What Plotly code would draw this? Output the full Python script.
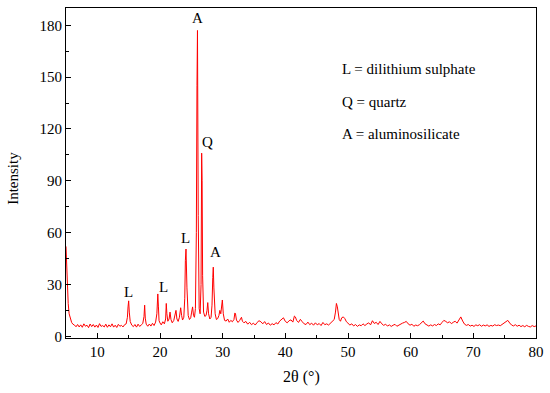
import plotly.graph_objects as go

two_theta = [
    5.0, 5.1, 5.2, 5.35, 5.5, 5.7, 5.9, 6.1, 6.35, 6.6,
    6.85, 7.1, 7.35, 7.6, 7.85, 8.1, 8.35, 8.6, 8.85, 9.1,
    9.35, 9.6, 9.85, 10.1, 10.35, 10.6, 10.85, 11.1, 11.35, 11.6,
    11.85, 12.1, 12.35, 12.6, 12.85, 13.1, 13.35, 13.6, 13.85, 14.1,
    14.35, 14.6, 14.8, 14.9, 15.0, 15.1, 15.25, 15.5, 15.75, 16.0,
    16.25, 16.5, 16.75, 17.0, 17.25, 17.45, 17.55, 17.65, 17.8, 18.05,
    18.3, 18.55, 18.8, 19.05, 19.3, 19.5, 19.65, 19.75, 19.85, 20.0,
    20.2, 20.45, 20.7, 20.9, 21.0, 21.1, 21.25, 21.45, 21.6, 21.75,
    21.95, 22.2, 22.4, 22.55, 22.7, 22.9, 23.1, 23.3, 23.45, 23.6,
    23.8, 23.95, 24.05, 24.15, 24.3, 24.5, 24.7, 24.9, 25.05, 25.2,
    25.35, 25.5, 25.65, 25.8, 25.9, 25.98, 26.1, 26.25, 26.4, 26.55,
    26.65, 26.72, 26.8, 26.95, 27.15, 27.35, 27.5, 27.62, 27.75, 27.95,
    28.15, 28.3, 28.42, 28.5, 28.6, 28.8, 29.0, 29.2, 29.4, 29.55,
    29.7, 29.85, 29.95, 30.1, 30.3, 30.55, 30.8, 31.05, 31.3, 31.55,
    31.8, 31.95, 32.05, 32.2, 32.45, 32.7, 32.9, 33.0, 33.15, 33.4,
    33.7, 34.0, 34.3, 34.6, 34.9, 35.2, 35.5, 35.8, 36.1, 36.4,
    36.7, 37.0, 37.3, 37.6, 37.9, 38.2, 38.5, 38.8, 39.1, 39.4,
    39.7, 40.0, 40.3, 40.6, 40.9, 41.2, 41.45, 41.6, 41.8, 42.1,
    42.4, 42.7, 43.0, 43.3, 43.6, 43.9, 44.2, 44.5, 44.8, 45.1,
    45.4, 45.7, 46.0, 46.3, 46.6, 46.9, 47.2, 47.5, 47.8, 48.0,
    48.15, 48.3, 48.45, 48.6, 48.8, 49.0, 49.25, 49.5, 49.75, 50.0,
    50.3, 50.6, 50.9, 51.2, 51.5, 51.8, 52.1, 52.4, 52.7, 53.0,
    53.3, 53.6, 53.9, 54.2, 54.5, 54.8, 55.1, 55.4, 55.7, 56.0,
    56.3, 56.6, 56.9, 57.2, 57.5, 57.8, 58.1, 58.4, 58.7, 59.0,
    59.3, 59.6, 59.9, 60.2, 60.5, 60.8, 61.1, 61.4, 61.7, 62.0,
    62.3, 62.6, 62.9, 63.2, 63.5, 63.8, 64.1, 64.4, 64.7, 65.0,
    65.3, 65.6, 65.9, 66.2, 66.5, 66.8, 67.1, 67.4, 67.7, 68.0,
    68.3, 68.6, 68.9, 69.2, 69.5, 69.8, 70.1, 70.4, 70.7, 71.0,
    71.3, 71.6, 71.9, 72.2, 72.5, 72.8, 73.1, 73.4, 73.7, 74.0,
    74.3, 74.6, 74.9, 75.2, 75.5, 75.8, 76.1, 76.4, 76.7, 77.0,
    77.3, 77.6, 77.9, 78.2, 78.5, 78.8, 79.1, 79.4, 79.7, 80.0,
]

intensity = [
    52, 41, 29, 19, 13, 9.5, 8, 7, 6.5, 5.5,
    6.8, 5.4, 6.6, 5.2, 7.2, 5.8, 6.4, 5.0, 7.1, 5.6,
    6.8, 5.3, 6.5, 5.1, 7.3, 5.7, 6.2, 5.4, 7.0, 5.2,
    6.6, 5.5, 7.2, 5.3, 6.4, 5.1, 6.9, 5.8, 6.3, 5.4,
    6.7, 7.2, 11, 17, 20.5, 14, 8.5, 6.4, 5.6, 6.8,
    5.3, 7.0, 5.7, 6.5, 7.4, 11.5, 18, 10.5, 7.0, 5.8,
    7.1, 5.9, 7.5, 6.2, 8.2, 13, 24.5, 17, 9, 7.7,
    6.6, 8.4, 7.2, 10, 19, 13, 8.7, 10, 14, 9.7,
    7.8, 9.2, 12, 15, 10, 8.6, 11, 16.5, 12, 9.4,
    11, 22, 44, 50.5, 28, 12, 9.7, 10.7, 14, 17,
    12, 11, 16, 60, 145, 177, 70, 16, 13, 30,
    106, 90, 35, 14, 11.5, 12, 15, 19.5, 13, 10,
    11, 18, 34, 40, 28, 13, 9.7, 10.2, 12, 15,
    13, 19, 21, 13, 9.2, 8.8, 10, 8.1, 9.2, 8.4,
    9.7, 13.5, 13, 9.4, 8.0, 9.1, 10.2, 11, 8.7, 7.8,
    8.6, 7.0, 8.1, 6.7, 7.6, 6.5, 8.0, 9.0, 8.4, 7.2,
    8.5, 6.8, 7.7, 6.4, 7.3, 6.6, 7.9, 7.1, 8.8, 9.7,
    10.7, 8.6, 7.8, 9.0, 9.5, 8.2, 11.7, 11.2, 9.2, 8.0,
    9.8, 8.4, 7.2, 6.8, 8.2, 6.7, 7.6, 6.4, 7.8, 6.6,
    7.4, 6.2, 8.0, 6.7, 7.2, 6.5, 7.6, 8.1, 9.7, 14,
    19, 17, 13, 9.7, 8.7, 10.7, 11.2, 10.2, 8.4, 7.6,
    6.5, 7.2, 6.0, 6.8, 5.7, 6.6, 6.1, 7.2, 6.2, 7.1,
    7.8, 6.6, 9.0, 7.4, 8.1, 6.8, 8.6, 7.2, 6.3, 7.0,
    5.9, 6.6, 5.7, 6.4, 6.9, 5.8, 6.5, 7.1, 7.6, 8.0,
    8.6, 7.2, 6.4, 7.0, 5.8, 6.5, 6.1, 6.7, 7.6, 8.8,
    7.2, 6.3, 5.9, 6.6, 6.0, 6.8, 6.2, 7.2, 6.6, 8.0,
    9.2, 8.6, 7.8, 8.4, 7.3, 8.1, 8.7, 7.6, 9.7, 11.2,
    8.8, 7.0, 6.3, 6.8, 5.9, 6.4, 5.7, 6.6, 6.1, 6.7,
    5.8, 6.5, 6.0, 6.6, 5.7, 6.3, 5.9, 6.7, 6.2, 6.5,
    6.1, 7.0, 7.6, 8.4, 9.2, 7.7, 6.5, 6.0, 6.7, 5.8,
    6.4, 5.6, 6.2, 5.5, 6.3, 5.7, 5.4, 6.2, 5.6, 6.0,
]

peak_labels = ["L", "L", "L", "A", "Q", "A"]
peak_label_x = [15.0, 20.6, 24.0, 26.0, 27.6, 28.8]
peak_label_y = [25.5, 28.3, 57, 184, 112.5, 48.5]

legend_lines = ["L = dilithium sulphate", "Q = quartz", "A = aluminosilicate"]
legend_y = [154.6, 135.6, 117.0]
legend_x = 48.7

FONT = "Liberation Serif, Times New Roman, serif"

fig = go.Figure()
fig.add_trace(go.Scatter(
    x=two_theta, y=intensity, mode="lines",
    line=dict(color="#ff0000", width=1), showlegend=False,
))

for t, x, y in zip(peak_labels, peak_label_x, peak_label_y):
    fig.add_annotation(x=x, y=y, text=t, showarrow=False,
                       font=dict(family=FONT, size=15, color="black"),
                       xanchor="center", yanchor="middle")

for t, y in zip(legend_lines, legend_y):
    fig.add_annotation(x=legend_x, y=y, text=t, showarrow=False,
                       font=dict(family=FONT, size=15, color="black"),
                       xanchor="left", yanchor="middle")

# axis titles
fig.add_annotation(x=-0.113, y=0.485, xref="paper", yref="paper",
                   text="Intensity", textangle=-90, showarrow=False,
                   font=dict(family=FONT, size=15, color="black"),
                   xanchor="center", yanchor="middle")
fig.add_annotation(x=0.5, y=-0.118, xref="paper", yref="paper",
                   text="2θ (°)", showarrow=False,
                   font=dict(family=FONT, size=16, color="black"),
                   xanchor="center", yanchor="middle")

axis_common = dict(
    showline=True, mirror=True, linecolor="black", linewidth=1,
    ticks="inside", ticklen=5, tickwidth=1, tickcolor="black",
    showgrid=False, zeroline=False, automargin=False,
    tickfont=dict(family=FONT, size=15, color="black"),
)

fig.update_layout(
    width=550, height=393,
    margin=dict(l=66, r=14, t=8, b=55),
    paper_bgcolor="white", plot_bgcolor="white",
    xaxis=dict(range=[5, 80], dtick=10, tick0=0,
               minor=dict(dtick=5, ticks="inside", ticklen=3, tickcolor="black"),
               **axis_common),
    yaxis=dict(range=[-1, 190], dtick=30, tick0=0,
               minor=dict(dtick=15, ticks="inside", ticklen=3, tickcolor="black"),
               **axis_common),
)

fig.write_html("out.html",
               config={"displayModeBar": False},
               post_script="document.body.style.margin='0';document.body.style.overflow='hidden';")
